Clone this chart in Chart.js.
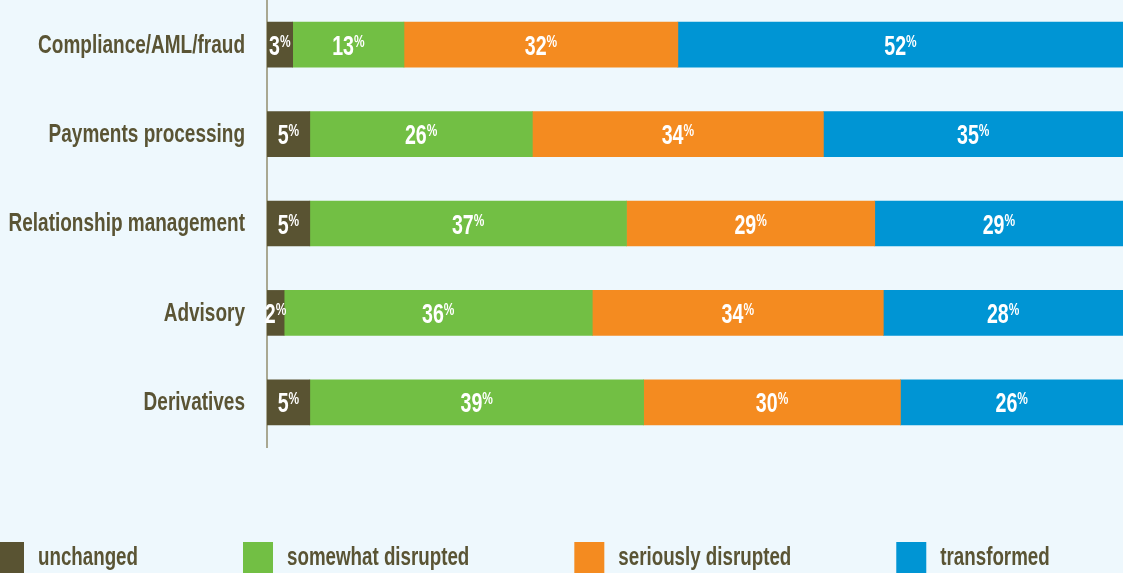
<!DOCTYPE html>
<html>
<head>
<meta charset="utf-8">
<script src="https://cdn.jsdelivr.net/npm/chart.js@4.4.1/dist/chart.umd.min.js"></script>
<style>
  html, body { margin: 0; padding: 0; background: #eef8fd; overflow: hidden; }
  canvas { display: block; }
</style>
</head>
<body>
<canvas id="disruptChart" width="1123" height="573"></canvas>
<script>
// share of respondents per business area
const categories = ['Compliance/AML/fraud', 'Payments processing', 'Relationship management', 'Advisory', 'Derivatives'];
const seriesNames = ['unchanged', 'somewhat disrupted', 'seriously disrupted', 'transformed'];
const unchanged = [3, 5, 5, 2, 5];
const somewhatDisrupted = [13, 26, 37, 36, 39];
const seriouslyDisrupted = [32, 34, 29, 34, 30];
const transformed = [52, 35, 29, 28, 26];

const colors = ['#595332', '#72bf44', '#f48b20', '#0095d4'];
const textColor = '#5a5434';
const FONT = '"Liberation Sans", Arial, sans-serif';

// draw text squeezed horizontally (the original uses a condensed face)
function squeezed(ctx, text, x, y, align, sq){
  const w = ctx.measureText(text).width * sq;
  const left = align === 'right' ? x - w : align === 'center' ? x - w / 2 : x;
  ctx.save();
  ctx.translate(left, y);
  ctx.scale(sq, 1);
  ctx.textAlign = 'left';
  ctx.fillText(text, 0, 0);
  ctx.restore();
  return w;
}

const textPlugin = {
  id: 'textPlugin',
  afterDatasetsDraw(chart){
    const ctx = chart.ctx;
    const yScale = chart.scales.y;
    ctx.save();
    // category labels
    ctx.fillStyle = textColor;
    ctx.font = 'bold 25px ' + FONT;
    ctx.textBaseline = 'middle';
    chart.data.labels.forEach((lab, i) => {
      squeezed(ctx, lab, yScale.right - 22, yScale.getPixelForValue(i) + 1, 'right', 0.76);
    });
    // value labels
    ctx.fillStyle = '#ffffff';
    ctx.textBaseline = 'alphabetic';
    chart.data.datasets.forEach((ds, di) => {
      chart.getDatasetMeta(di).data.forEach((bar, i) => {
        const num = String(ds.data[i]);
        const cx = (bar.x + bar.base) / 2;
        const cy = bar.y;
        ctx.font = 'bold 28px ' + FONT;
        const nw = ctx.measureText(num).width * 0.7;
        ctx.font = 'bold 17px ' + FONT;
        const pw = ctx.measureText('%').width * 0.7;
        const left = cx - (nw + pw) / 2;
        ctx.font = 'bold 28px ' + FONT;
        squeezed(ctx, num, left, cy + 10, 'left', 0.7);
        ctx.font = 'bold 17px ' + FONT;
        squeezed(ctx, '%', left + nw, cy + 2, 'left', 0.7);
      });
    });
    // legend
    ctx.font = 'bold 25px ' + FONT;
    ctx.textBaseline = 'middle';
    let x = -6;
    chart.data.datasets.forEach(ds => {
      ctx.fillStyle = ds.backgroundColor;
      ctx.fillRect(x, 542, 30, 31);
      x += 30 + 14;
      ctx.fillStyle = textColor;
      x += squeezed(ctx, ds.label, x, 558, 'left', 0.75);
      x += 105;
    });
    ctx.restore();
  }
};

const datasets = [unchanged, somewhatDisrupted, seriouslyDisrupted, transformed].map((vals, i) => ({
  label: seriesNames[i],
  data: vals,
  backgroundColor: colors[i],
  borderWidth: 0,
  barThickness: 45
}));

new Chart(document.getElementById('disruptChart').getContext('2d'), {
  type: 'bar',
  data: { labels: categories, datasets },
  options: {
    indexAxis: 'y',
    responsive: false,
    animation: false,
    layout: { padding: { top: 0, right: 0, bottom: 126, left: 0 } },
    plugins: { legend: { display: false }, tooltip: { enabled: false } },
    scales: {
      x: { stacked: true, min: 0, max: 100, display: false },
      y: {
        stacked: true,
        ticks: { display: false },
        grid: { display: false, drawTicks: false },
        border: { display: true, color: '#a9a892', width: 2 },
        afterFit(scale){ scale.width = 267; }
      }
    }
  },
  plugins: [textPlugin]
});
</script>
</body>
</html>
